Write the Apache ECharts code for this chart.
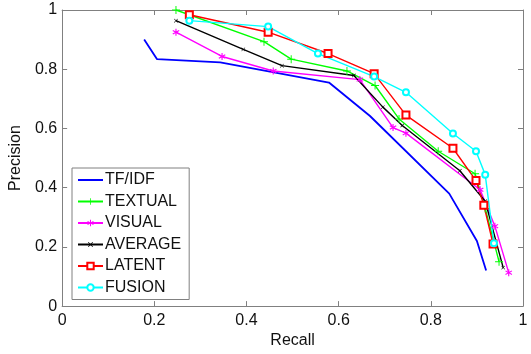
<!DOCTYPE html>
<html>
<head>
<meta charset="utf-8">
<script src="https://cdn.jsdelivr.net/npm/echarts@6/dist/echarts.min.js"></script>
<style>
  html, body { margin: 0; padding: 0; background: #fff; }
  #chart { width: 531px; height: 354px; }
</style>
</head>
<body>
<div id="chart"></div>
<script>
// recall / precision pairs
const tfidfRecall = [0.178, 0.206, 0.343, 0.579, 0.668, 0.84, 0.90, 0.92];
const tfidfPrecision = [0.90, 0.834, 0.823, 0.755, 0.642, 0.38, 0.22, 0.12];

const textualRecall = [0.247, 0.438, 0.497, 0.618, 0.679, 0.731, 0.816, 0.896, 0.918, 0.948];
const textualPrecision = [1.0, 0.893, 0.834, 0.794, 0.745, 0.632, 0.523, 0.447, 0.33, 0.15];

const visualRecall = [0.247, 0.347, 0.458, 0.646, 0.718, 0.746, 0.907, 0.939, 0.969];
const visualPrecision = [0.925, 0.843, 0.794, 0.765, 0.603, 0.584, 0.393, 0.27, 0.113];

const averageRecall = [0.247, 0.393, 0.477, 0.633, 0.696, 0.738, 0.863, 0.918, 0.957];
const averagePrecision = [0.964, 0.867, 0.812, 0.779, 0.672, 0.61, 0.457, 0.354, 0.13];

const latentRecall = [0.276, 0.447, 0.577, 0.677, 0.746, 0.848, 0.898, 0.915, 0.935];
const latentPrecision = [0.984, 0.925, 0.853, 0.785, 0.645, 0.533, 0.424, 0.341, 0.21];

const fusionRecall = [0.276, 0.447, 0.555, 0.677, 0.746, 0.848, 0.898, 0.918, 0.937];
const fusionPrecision = [0.964, 0.944, 0.853, 0.775, 0.722, 0.583, 0.523, 0.444, 0.212];

const FONT = "'Liberation Sans', Arial, sans-serif";
const AXIS_COLOR = "#808080";
const PLUS = "path://M4.4,0h1.2v4.4h4.4v1.2h-4.4v4.4h-1.2v-4.4h-4.4v-1.2h4.4z";
const STAR = "path://M4.3,0h1.4v3.3l2.9-1.7l0.7,1.2l-2.9,1.7l2.9,1.7l-0.7,1.2l-2.9-1.7v3.3h-1.4v-3.3l-2.9,1.7l-0.7-1.2l2.9-1.7l-2.9-1.7l0.7-1.2l2.9,1.7z";

const pairs = (xs, ys) => xs.map((x, i) => [x, ys[i]]);
const fmt = (v) => (v === 0 || v === 1 ? String(v) : v.toFixed(1));

const chart = echarts.init(document.getElementById("chart"), null, { renderer: "canvas" });

function line(name, color, data, symbol, size, extra) {
  return Object.assign({
    name,
    type: "line",
    data,
    symbol,
    symbolSize: size,
    showSymbol: symbol !== "none",
    animation: false,
    lineStyle: { color, width: 1.4 },
    itemStyle: { color, borderColor: color, borderWidth: symbol.indexOf("path") === 0 ? 0 : 1 },
    emphasis: { disabled: true },
  }, extra || {});
}

const baseAxis = {
  type: "value",
  min: 0,
  max: 1,
  interval: 0.2,
  axisLine: { show: true, onZero: false, lineStyle: { color: AXIS_COLOR, width: 1 } },
  axisTick: { show: true, inside: true, length: 5, lineStyle: { color: AXIS_COLOR } },
  splitLine: { show: false },
};

chart.setOption({
  backgroundColor: "#fff",
  grid: { left: 62, right: 8, top: 10, bottom: 42 },
  xAxis: [
    Object.assign({}, baseAxis, {
      position: "bottom",
      name: "Recall",
      nameLocation: "middle",
      nameGap: 23,
      nameTextStyle: { color: "#111", fontSize: 16, fontFamily: FONT },
      axisLabel: { color: "#111", fontSize: 16, fontFamily: FONT, margin: 6, formatter: fmt },
    }),
    Object.assign({}, baseAxis, { position: "top", axisLabel: { show: false } }),
  ],
  yAxis: [
    Object.assign({}, baseAxis, {
      position: "left",
      name: "Precision",
      nameLocation: "middle",
      nameGap: 28,
      nameTextStyle: { color: "#111", fontSize: 16, fontFamily: FONT },
      axisLabel: { color: "#111", fontSize: 16, fontFamily: FONT, margin: 5, formatter: fmt },
    }),
    Object.assign({}, baseAxis, { position: "right", axisLabel: { show: false } }),
  ],
  legend: {
    orient: "vertical",
    left: 72,
    top: 168,
    width: 116,
    padding: [4, 8, 4, 5],
    itemWidth: 25,
    itemHeight: 8,
    itemGap: 5.5,
    backgroundColor: "#fff",
    borderColor: AXIS_COLOR,
    borderWidth: 1,
    textStyle: { color: "#111", fontSize: 16, lineHeight: 14, fontFamily: FONT, padding: [0, 0, 0, -3] },
    data: [
      { name: "TF/IDF", itemStyle: { opacity: 0 } },
      "TEXTUAL", "VISUAL", "AVERAGE", "LATENT", "FUSION",
    ],
  },
  series: [
    line("TF/IDF", "#0000ff", pairs(tfidfRecall, tfidfPrecision), "none", 0, { lineStyle: { color: "#0000ff", width: 1.8 } }),
    line("TEXTUAL", "#00ff00", pairs(textualRecall, textualPrecision), PLUS, 8),
    line("VISUAL", "#ff00ff", pairs(visualRecall, visualPrecision), STAR, 7),
    line("AVERAGE", "#000000", pairs(averageRecall, averagePrecision), PLUS, 5, { symbolRotate: 45 }),
    line("LATENT", "#ff0000", pairs(latentRecall, latentPrecision), "emptyRect", 7),
    line("FUSION", "#00ffff", pairs(fusionRecall, fusionPrecision), "emptyCircle", 6),
  ],
});
</script>
</body>
</html>
